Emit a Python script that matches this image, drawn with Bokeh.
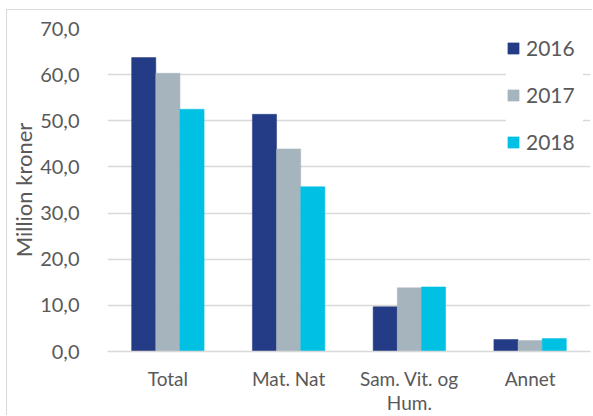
from bokeh.plotting import figure
from bokeh.models import ColumnDataSource, Range1d, FactorRange, FixedTicker, Legend, LegendItem
from bokeh.transform import dodge
from bokeh.embed import file_html
from bokeh.resources import INLINE

categories = ["Total", "Mat. Nat", "Sam. Vit. og\nHum.", "Annet"]
years = ["2016", "2017", "2018"]
v2016 = [63.7, 51.4, 9.7, 2.6]
v2017 = [60.3, 43.9, 13.8, 2.4]
v2018 = [52.5, 35.7, 14.0, 2.8]
y_ticks = [0, 10, 20, 30, 40, 50, 60, 70]

colors = ["#243B85", "#A6B4BD", "#00C0E3"]
FONT = "Lato"
TXT = "#595959"

src = ColumnDataSource(data=dict(cat=categories, y2016=v2016, y2017=v2017, y2018=v2018))

p = figure(x_range=FactorRange(*categories, range_padding=0), y_range=Range1d(0, 70),
           width=586, height=406, output_backend="svg", toolbar_location=None,
           min_border_left=97, min_border_right=3, min_border_top=18, min_border_bottom=60)
p.styles = {"border-left": "1px solid #D9D9D9", "border-top": "1px solid #D9D9D9",
            "margin-left": "6px", "margin-top": "9px"}

renderers = []
for i, (yr, col) in enumerate(zip(years, colors)):
    r = p.vbar(x=dodge("cat", (i - 1) * 0.2, range=p.x_range), top="y" + yr, width=0.2,
               source=src, fill_color=col, line_color=col, line_width=0.5)
    renderers.append(r)

p.outline_line_color = None
p.xgrid.grid_line_color = None
p.ygrid.grid_line_color = "#D9D9D9"
p.ygrid.grid_line_width = 1.3

p.yaxis.ticker = FixedTicker(ticks=y_ticks)
p.yaxis.major_label_overrides = {t: f"{t:.1f}".replace(".", ",") for t in y_ticks}
p.yaxis.axis_label = "Million kroner"
p.yaxis.axis_label_text_font = FONT
p.yaxis.axis_label_text_font_style = "normal"
p.yaxis.axis_label_text_font_size = "22px"
p.yaxis.axis_label_text_color = TXT
p.yaxis.axis_label_standoff = 0
p.yaxis.major_label_text_font = FONT
p.yaxis.major_label_text_font_size = "20px"
p.yaxis.major_label_text_color = TXT
p.yaxis.axis_line_color = None
p.yaxis.major_tick_line_color = None
p.yaxis.minor_tick_line_color = None
p.yaxis.major_label_standoff = 22

p.xaxis.major_label_text_font = FONT
p.xaxis.major_label_text_font_size = "19px"
p.xaxis.major_label_text_color = TXT
p.xaxis.major_label_text_line_height = 1.05
p.xaxis.axis_line_color = "#D9D9D9"
p.xaxis.axis_line_width = 1.3
p.xaxis.major_tick_line_color = None
p.xaxis.minor_tick_line_color = None
p.xaxis.major_label_standoff = 9

legend = Legend(items=[LegendItem(label=yr, renderers=[r]) for yr, r in zip(years, renderers)],
                location="top_right")
legend.label_text_font = FONT
legend.label_text_font_size = "21px"
legend.label_text_color = TXT
legend.glyph_width = 14
legend.glyph_height = 14
legend.label_height = 20
legend.label_width = 57
legend.spacing = 22
legend.padding = 18
legend.margin = 7
legend.label_standoff = 6
legend.border_line_color = None
legend.background_fill_color = "white"
legend.background_fill_alpha = 1
p.add_layout(legend)

open("out.html", "w").write(file_html(p, INLINE))
